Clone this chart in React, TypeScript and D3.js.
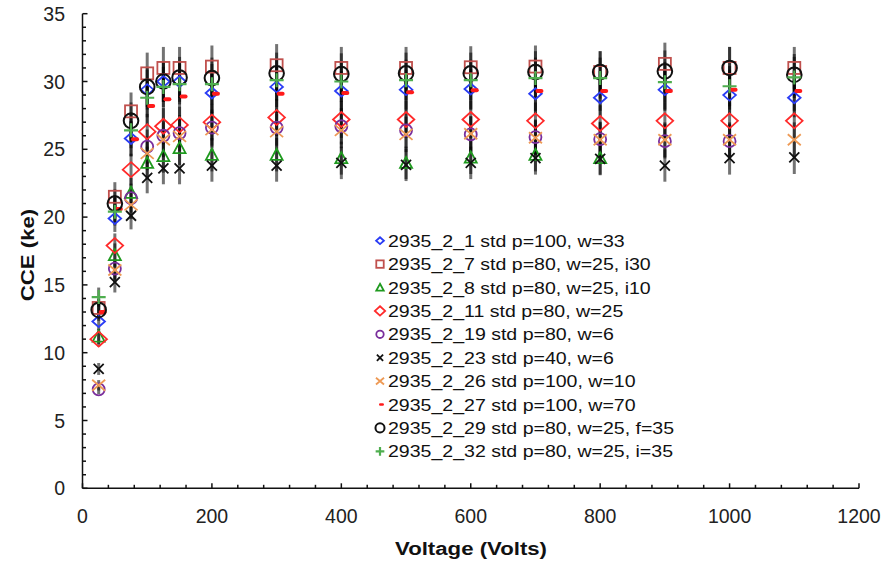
import React from "react";
import * as d3 from "d3";

const voltages = [25, 50, 75, 100, 125, 150, 200, 300, 400, 500, 600, 700, 800, 900, 1000, 1100];

const s2_1 = [12.3, 19.9, 25.8, 29.4, 30.0, 30.0, 29.15, 29.6, 29.3, 29.4, 29.45, 29.1, 28.8, 29.4, 29.0, 28.8];
const s2_7 = [13.3, 21.5, 27.8, 30.6, 31.0, 31.0, 31.1, 31.2, 31.0, 31.0, 31.05, 31.1, 30.7, 31.3, 31.0, 31.0];
const s2_8 = [11.2, 17.2, 21.8, 24.0, 24.5, 25.1, 24.6, 24.6, 24.35, 24.0, 24.4, 24.6, 24.35, null, null, null];
const s2_11 = [11.0, 17.9, 23.5, 26.3, 26.7, 26.8, 27.0, 27.35, 27.2, 27.2, 27.2, 27.1, 26.9, 27.1, 27.1, 27.1];
const s2_19 = [7.3, 16.2, 21.4, 25.2, 26.0, 26.2, 26.6, 26.6, 26.7, 26.4, 26.1, 25.9, 25.75, 25.6, 25.6, null];
const s2_23 = [8.8, 15.2, 20.1, 22.9, 23.6, 23.6, 23.8, 23.8, 24.0, 23.85, 24.0, 24.35, 24.3, 23.8, 24.35, 24.4];
const s2_26 = [7.6, 16.1, 20.9, 24.7, 25.7, 25.95, 26.45, 26.3, 26.4, 26.1, 26.15, 25.85, 25.7, 25.7, 25.7, 25.7];
const s2_27 = [13.0, 20.6, 25.75, 28.2, 28.7, 28.9, 29.1, 29.1, 29.15, 29.2, 29.35, 29.3, 29.3, 29.3, 29.4, 29.3];
const s2_29 = [13.15, 21.0, 27.1, 29.6, 30.0, 30.3, 30.25, 30.6, 30.55, 30.6, 30.6, 30.7, 30.7, 30.75, 31.0, 30.5];
const s2_32 = [14.1, 20.4, 26.4, 28.8, 29.6, 29.8, 29.8, 30.1, 30.0, 30.1, 30.1, 30.25, 30.25, 29.95, 29.65, 30.3];

const legendLabels = [
  "2935_2_1 std p=100, w=33",
  "2935_2_7 std p=80, w=25, i30",
  "2935_2_8 std p=80, w=25, i10",
  "2935_2_11 std p=80, w=25",
  "2935_2_19 std p=80, w=6",
  "2935_2_23 std p=40, w=6",
  "2935_2_26 std p=100, w=10",
  "2935_2_27 std p=100, w=70",
  "2935_2_29 std p=80, w=25, f=35",
  "2935_2_32 std p=80, w=25, i=35",
];

const xTicks = [0, 200, 400, 600, 800, 1000, 1200];
const yTicks = [0, 5, 10, 15, 20, 25, 30, 35];

type Shape = "diamondS" | "square" | "triangle" | "diamondL" | "circleS" | "xS" | "xL" | "dash" | "circleL" | "plus";

const series: { values: (number | null)[]; shape: Shape; color: string }[] = [
  { values: s2_1, shape: "diamondS", color: "#2a3cf5" },
  { values: s2_7, shape: "square", color: "#c0504d" },
  { values: s2_8, shape: "triangle", color: "#1f9a1f" },
  { values: s2_11, shape: "diamondL", color: "#ff2a2a" },
  { values: s2_19, shape: "circleS", color: "#7a2e9c" },
  { values: s2_23, shape: "xS", color: "#111111" },
  { values: s2_26, shape: "xL", color: "#ee9a55" },
  { values: s2_27, shape: "dash", color: "#ff1a1a" },
  { values: s2_29, shape: "circleL", color: "#111111" },
  { values: s2_32, shape: "plus", color: "#4fae4f" },
];

function Marker({ shape, color, x, y, k = 1 }: { shape: Shape; color: string; x: number; y: number; k?: number }) {
  const sw = 1.8;
  const common = { fill: "none", stroke: color, strokeWidth: sw };
  switch (shape) {
    case "diamondS": {
      const w = 6.3 * k, h = 5.5 * k;
      return <path d={`M${x},${y - h}L${x + w},${y}L${x},${y + h}L${x - w},${y}Z`} {...common} />;
    }
    case "diamondL": {
      const w = 8.3 * k, h = 7.5 * k;
      return <path d={`M${x},${y - h}L${x + w},${y}L${x},${y + h}L${x - w},${y}Z`} {...common} />;
    }
    case "square": {
      const s = 6 * k;
      return <rect x={x - s} y={y - s} width={2 * s} height={2 * s} {...common} />;
    }
    case "triangle": {
      const s = 6 * k;
      return <path d={`M${x},${y - s}L${x + s},${y + s * 0.85}L${x - s},${y + s * 0.85}Z`} {...common} />;
    }
    case "circleS":
      return <circle cx={x} cy={y} r={6 * k} {...common} />;
    case "circleL":
      return <circle cx={x} cy={y} r={7.3 * k} {...common} strokeWidth={2} />;
    case "xS": {
      const s = 5 * k;
      return <path d={`M${x - s},${y - s}L${x + s},${y + s}M${x - s},${y + s}L${x + s},${y - s}`} {...common} />;
    }
    case "xL": {
      const s = 6.5 * k, t = 5.5 * k;
      return <path d={`M${x - s},${y - t}L${x + s},${y + t}M${x - s},${y + t}L${x + s},${y - t}`} {...common} />;
    }
    case "plus": {
      const s = 7 * k;
      return <path d={`M${x - s},${y}L${x + s},${y}M${x},${y - s}L${x},${y + s}`} {...common} strokeWidth={2.2} />;
    }
    case "dash": {
      const w = 8 * k, h = 4 * k;
      return <rect x={x + 4 * k - w / 2 + (k < 1 ? -1 : 0)} y={y - h / 2} width={w} height={h} rx={h / 2} fill={color} stroke="none" />;
    }
  }
  return null;
}

export default function App() {
  const W = 883, H = 561;
  const x = d3.scaleLinear().domain([0, 1200]).range([82.5, 859]);
  const y = d3.scaleLinear().domain([0, 35]).range([488.3, 13.7]);

  const xMinor = d3.range(0, 1201, 40);
  const yMinor = d3.range(0, 35.01, 1);
  const font = "'Liberation Sans', Arial, Helvetica, sans-serif";

  return (
    <svg width={W} height={H} style={{ position: "absolute", left: 0, top: 0, background: "#fff" }}>
      {/* error bars */}
      <g stroke="#000" strokeOpacity={0.55} strokeWidth={3}>
        {series.map((s, si) =>
          s.values.map((v, i) =>
            v == null ? null : (
              <line key={`e${si}-${i}`} x1={x(voltages[i])} x2={x(voltages[i])} y1={y(v * 1.05)} y2={y(v * 0.95)} />
            )
          )
        )}
      </g>
      {/* markers */}
      {series.map((s, si) => (
        <g key={`s${si}`}>
          {s.values.map((v, i) =>
            v == null ? null : <Marker key={i} shape={s.shape} color={s.color} x={x(voltages[i])} y={y(v)} />
          )}
        </g>
      ))}
      {/* axes */}
      <g stroke="#111" strokeWidth={1.5}>
        <line x1={x(0)} x2={x(1200)} y1={y(0)} y2={y(0)} />
        <line x1={x(0)} x2={x(0)} y1={y(0)} y2={y(35)} />
        {xMinor.map((t) => (
          <line key={`xm${t}`} x1={x(t)} x2={x(t)} y1={y(0)} y2={y(0) - (t % 200 === 0 ? 5 : 3.5)} />
        ))}
        {yMinor.map((t) => (
          <line key={`ym${t}`} x1={x(0)} x2={x(0) + (t % 5 === 0 ? 5 : 3.5)} y1={y(t)} y2={y(t)} />
        ))}
      </g>
      <g fontFamily={font} fontSize={19.5} fill="#222">
        {xTicks.map((t) => (
          <text key={`xt${t}`} x={x(t)} y={523} textAnchor="middle">{t}</text>
        ))}
        {yTicks.map((t) => (
          <text key={`yt${t}`} x={65} y={y(t) + 7} textAnchor="end">{t}</text>
        ))}
      </g>
      <text
        fontFamily={font}
        fontWeight="bold"
        fontSize={18.5}
        fill="#111"
        textAnchor="middle"
        transform={`translate(471,555) scale(1.2,1)`}
      >
        Voltage (Volts)
      </text>
      <text
        fontFamily={font}
        fontWeight="bold"
        fontSize={18.5}
        fill="#111"
        textAnchor="middle"
        transform={`translate(34,255) rotate(-90) scale(1.2,1)`}
      >
        CCE (ke)
      </text>
      {/* legend */}
      <g>
        {series.map((s, i) => {
          const cy = 240.7 + i * 23.4;
          return (
            <g key={`l${i}`}>
              <Marker shape={s.shape} color={s.color} x={380} y={cy} k={0.62} />
              <text
                fontFamily={font}
                fontSize={17}
                fill="#111"
                transform={`translate(388,${cy + 6}) scale(1.15,1)`}
              >
                {legendLabels[i]}
              </text>
            </g>
          );
        })}
      </g>
    </svg>
  );
}
